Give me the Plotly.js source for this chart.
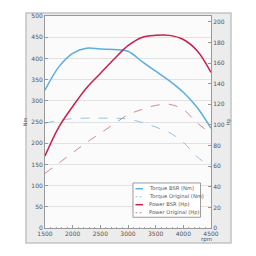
<!DOCTYPE html>
<html>
<head>
<meta charset="utf-8">
<script src="https://cdn.plot.ly/plotly-3.0.1.min.js"></script>
<style>html,body{margin:0;padding:0;background:#fff}#chart{width:256px;height:256px}</style>
</head>
<body>
<div id="chart"></div>
<script>
const rpm = [1500, 1750, 2000, 2250, 2500, 2750, 3000, 3250, 3500, 3750, 4000, 4250, 4500];
const torqueBSR = [325, 380, 412, 424, 422, 421, 417, 393, 370, 347, 320, 284, 235];
const torqueOriginal = [247, 254, 258, 259, 259, 259, 257, 249, 238, 225, 202, 168, 143];
const powerBSR = [70, 98, 118, 136, 150, 164, 177, 185, 187, 187, 183, 172, 151];
const powerOriginal = [53, 63, 73, 83, 92, 101, 110, 115, 119, 120, 115, 102, 92];
const seriesNames = ['Torque BSR (Nm)', 'Torque Original (Nm)', 'Power BSR (Hp)', 'Power Original (Hp)'];
const xTicks = [1500, 2000, 2500, 3000, 3500, 4000, 4500];

const FAM = 'DejaVu Sans, sans-serif';
const font = {family: FAM, size: 6, color: '#555'};

const styles = [
  {color: '#5aaee0', width: 1.5, dash: 'solid', shape: 'spline'},
  {color: '#8fc6e6', width: 1, dash: 'dash', shape: 'spline'},
  {color: '#c8204c', width: 1.5, dash: 'solid', shape: 'spline'},
  {color: '#c98aa2', width: 1, dash: 'dash', shape: 'spline'}
];
const ys = [torqueBSR, torqueOriginal, powerBSR, powerOriginal];
const axes = ['y', 'y', 'y2', 'y2'];

const traces = ys.map((y, i) => ({
  x: rpm, y: y, name: seriesNames[i], type: 'scatter', mode: 'lines',
  line: styles[i], yaxis: axes[i]
}));

// custom compact legend (Plotly's legend rows have a 16px minimum height)
const legShapes = [
  {type: 'rect', xref: 'paper', yref: 'paper', x0: 0.530, x1: 0.937, y0: 0.0505, y1: 0.2123,
   fillcolor: '#ffffff', line: {color: '#9a9a9a', width: 1}, layer: 'above'}
];
const legAnn = [];
const rowY = [0.1854, 0.1476, 0.1099, 0.0722];
seriesNames.forEach((n, i) => {
  legShapes.push({type: 'line', xref: 'paper', yref: 'paper', x0: 0.545, x1: 0.590, y0: rowY[i], y1: rowY[i],
    line: {color: styles[i].color, width: styles[i].width, dash: styles[i].dash === 'dash' ? '2px,2px' : 'solid'}, layer: 'above'});
  legAnn.push({text: n, xref: 'paper', yref: 'paper', x: 0.6145, y: rowY[i], xanchor: 'left', yanchor: 'middle',
    showarrow: false, font: {family: FAM, size: 5.2, color: '#555'}});
});

const layout = {
  width: 256, height: 256,
  margin: {l: 45, r: 45, t: 16, b: 28},
  paper_bgcolor: '#ffffff',
  plot_bgcolor: 'rgba(0,0,0,0)',
  font: font,
  showlegend: false,
  xaxis: {range: [1500, 4500], tickvals: xTicks, ticktext: xTicks.map(String),
          showgrid: false, zeroline: false, showline: true, linecolor: '#999', linewidth: 1,
          mirror: true, ticks: 'inside', ticklen: 3, tickcolor: '#999',
          minor: {dtick: 100, ticks: 'inside', ticklen: 1.5, tickcolor: '#aaa', showgrid: false},
          tickfont: font},
  yaxis: {range: [0, 500], dtick: 50, showgrid: true, gridcolor: '#e2e2e2', zeroline: false,
          showline: true, linecolor: '#999', linewidth: 1, ticks: 'inside', ticklen: 3, tickcolor: '#999',
          tickfont: font, title: {text: 'Nm', font: {family: FAM, size: 5, color: '#555'}, standoff: 3}},
  yaxis2: {range: [0, 205.8], dtick: 20, overlaying: 'y', side: 'right', showgrid: false, zeroline: false,
           showline: true, linecolor: '#999', linewidth: 1, ticks: 'inside', ticklen: 3, tickcolor: '#999',
           tickfont: font, title: {text: 'Hp', font: {family: FAM, size: 5, color: '#555'}, standoff: 2}},
  shapes: [
    {type: 'rect', xref: 'paper', yref: 'paper', x0: -0.1145, x1: 1.1205, y0: -0.0708, y1: 1.014,
     fillcolor: '#ececec', line: {color: '#c4c4c4', width: 1.5}, layer: 'below'},
    {type: 'rect', xref: 'paper', yref: 'paper', x0: 0, x1: 1, y0: 0, y1: 1,
     fillcolor: '#fbfbfb', line: {width: 0}, layer: 'below'}
  ].concat(legShapes),
  annotations: [
    {text: 'rpm', xref: 'paper', yref: 'paper', x: 0.975, y: -0.03, xanchor: 'center', yanchor: 'top',
     showarrow: false, font: {family: FAM, size: 5.5, color: '#555'}}
  ].concat(legAnn)
};

Plotly.newPlot('chart', traces, layout, {displayModeBar: false, staticPlot: true});
</script>
</body>
</html>
